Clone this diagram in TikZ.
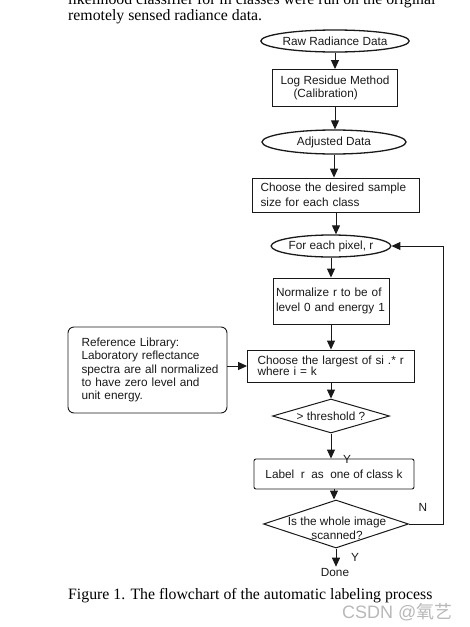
\documentclass[tikz,border=0pt]{standalone}
\usepackage{fontspec}
\setmainfont{Liberation Serif}
\setsansfont{Liberation Sans}
\newfontfamily\cjkfont{Noto Sans CJK SC}
\usetikzlibrary{arrows.meta, shapes.geometric, positioning}
\definecolor{lineBlack}{gray}{0.1}
\definecolor{markGray}{gray}{0.72}

\begin{document}
\begin{tikzpicture}[x=1pt, y=-1pt, >={Triangle[length=9pt,width=8pt]},
    flowtext/.style={font=\sffamily\fontsize{11.8}{13}\selectfont, text=lineBlack},
    databox/.style={ellipse, draw=lineBlack, line width=1.3pt, inner sep=0pt, flowtext},
    stepbox/.style={rectangle, draw=lineBlack, line width=0.9pt, inner sep=0pt, flowtext},
    testbox/.style={diamond, aspect=3.4, draw=lineBlack, line width=1pt, inner sep=0pt, flowtext},
    flow/.style={->, line width=1pt, lineBlack},
    answer/.style={flowtext, inner sep=1pt},
    bodytext/.style={font=\fontsize{15.8}{16}\selectfont, anchor=base west, inner sep=0pt}]
    \useasboundingbox (0,0) rectangle (469,627);

    % text of the page
    \node[bodytext] (line1) at (68,4) {likelihood classifier for m classes were run on the original};
    \node[bodytext] (line2) at (68,20) {remotely sensed radiance data.};

    % calibration
    \node[databox, minimum width=140pt, minimum height=22pt] (raw) at (335,41) {Raw Radiance Data};
    \node[stepbox, minimum width=125pt, minimum height=37pt, align=left] (logres) at (335,88)
        {Log Residue Method\\\hspace*{1.1em}(Calibration)};
    \node[databox, minimum width=144pt, minimum height=24pt] (adj) at (334,142) {Adjusted Data};
    \node[stepbox, minimum width=167pt, minimum height=34pt, text width=151pt, align=left,
        font=\sffamily\fontsize{11.8}{15}\selectfont] (sample) at (336,195)
        {Choose the desired sample\\size for each class};

    % labeling loop
    \node[databox, minimum width=103pt, minimum height=22pt] (pixel) at (331,246) {For each pixel, r};
    \node[stepbox, minimum width=116pt, minimum height=46pt, text width=110pt, align=left,
        font=\sffamily\fontsize{11.8}{15}\selectfont] (norm) at (331,301)
        {Normalize r to be of\\level 0 and energy 1};
    \node[stepbox, minimum width=167pt, minimum height=32pt, text width=147pt, align=left,
        font=\sffamily\fontsize{11.8}{11}\selectfont] (largest) at (331,366)
        {Choose the largest of si .* r\\where i = k};
    \node[stepbox, rounded corners=6pt, minimum width=159pt, minimum height=86pt, text width=132pt,
        align=left, font=\sffamily\fontsize{11.8}{13.3}\selectfont] (refl) at (147.5,370)
        {Reference Library:\\Laboratory reflectance\\\mbox{spectra are all normalized}\\to have zero level and\\unit energy.};
    \node[testbox, minimum width=117pt, minimum height=34pt] (thresh) at (331,416) {> threshold ?};
    \node[stepbox, rounded corners=2pt, minimum width=160pt, minimum height=30pt] (label) at (334,474)
        {Label\ \ r\ \ as\ \ one of class k};
    \node[testbox, minimum width=145pt, minimum height=48pt] (scan) at (336,524) {};
    \node[flowtext, align=center, inner sep=0pt, font=\sffamily\fontsize{11.8}{14}\selectfont]
        (scantext) at (337,528) {Is the whole image\\scanned?};
    \node[answer] (done) at (335,572) {Done};

    % answers
    \node[answer] (ythresh) at (347,459) {Y};
    \node[answer] (nscan) at (423,507) {N};
    \node[answer] (yscan) at (355,557) {Y};

    % connectors
    \draw[flow] (raw.south) -- (raw.south |- logres.north);
    \draw[flow] (logres.south) -- (logres.south |- adj.north);
    \draw[flow] (adj.south) -- (adj.south |- sample.north);
    \draw[flow] (sample.south) -- (sample.south |- pixel.north);
    \draw[flow] (pixel.south) -- (pixel.south |- norm.north);
    \draw[flow] (norm.south) -- (norm.south |- largest.north);
    \draw[flow] (largest.south) -- (largest.south |- thresh.north);
    \draw[flow] (thresh.south) -- (thresh.south |- label.north);
    \draw[flow] (label.south) -- (label.south |- scan.north);
    \draw[flow] (scan.south) -- (scan.south |- done.north);
    \draw[flow] (refl.east |- largest.west) -- (largest.west);
    \coordinate (loopx) at (443,0);
    \draw[flow] (scan.east) -- (scan.east -| loopx) |- (pixel.east);

    % caption
    \node[bodytext] (caption) at (68,599) {Figure 1. The flowchart of the automatic labeling process};
    \node[anchor=base west, inner sep=0pt, text=markGray, font=\sffamily\fontsize{18}{18}\selectfont]
        (mark) at (342,618) {CSDN @{\cjkfont 氧艺}};
\end{tikzpicture}
\end{document}
